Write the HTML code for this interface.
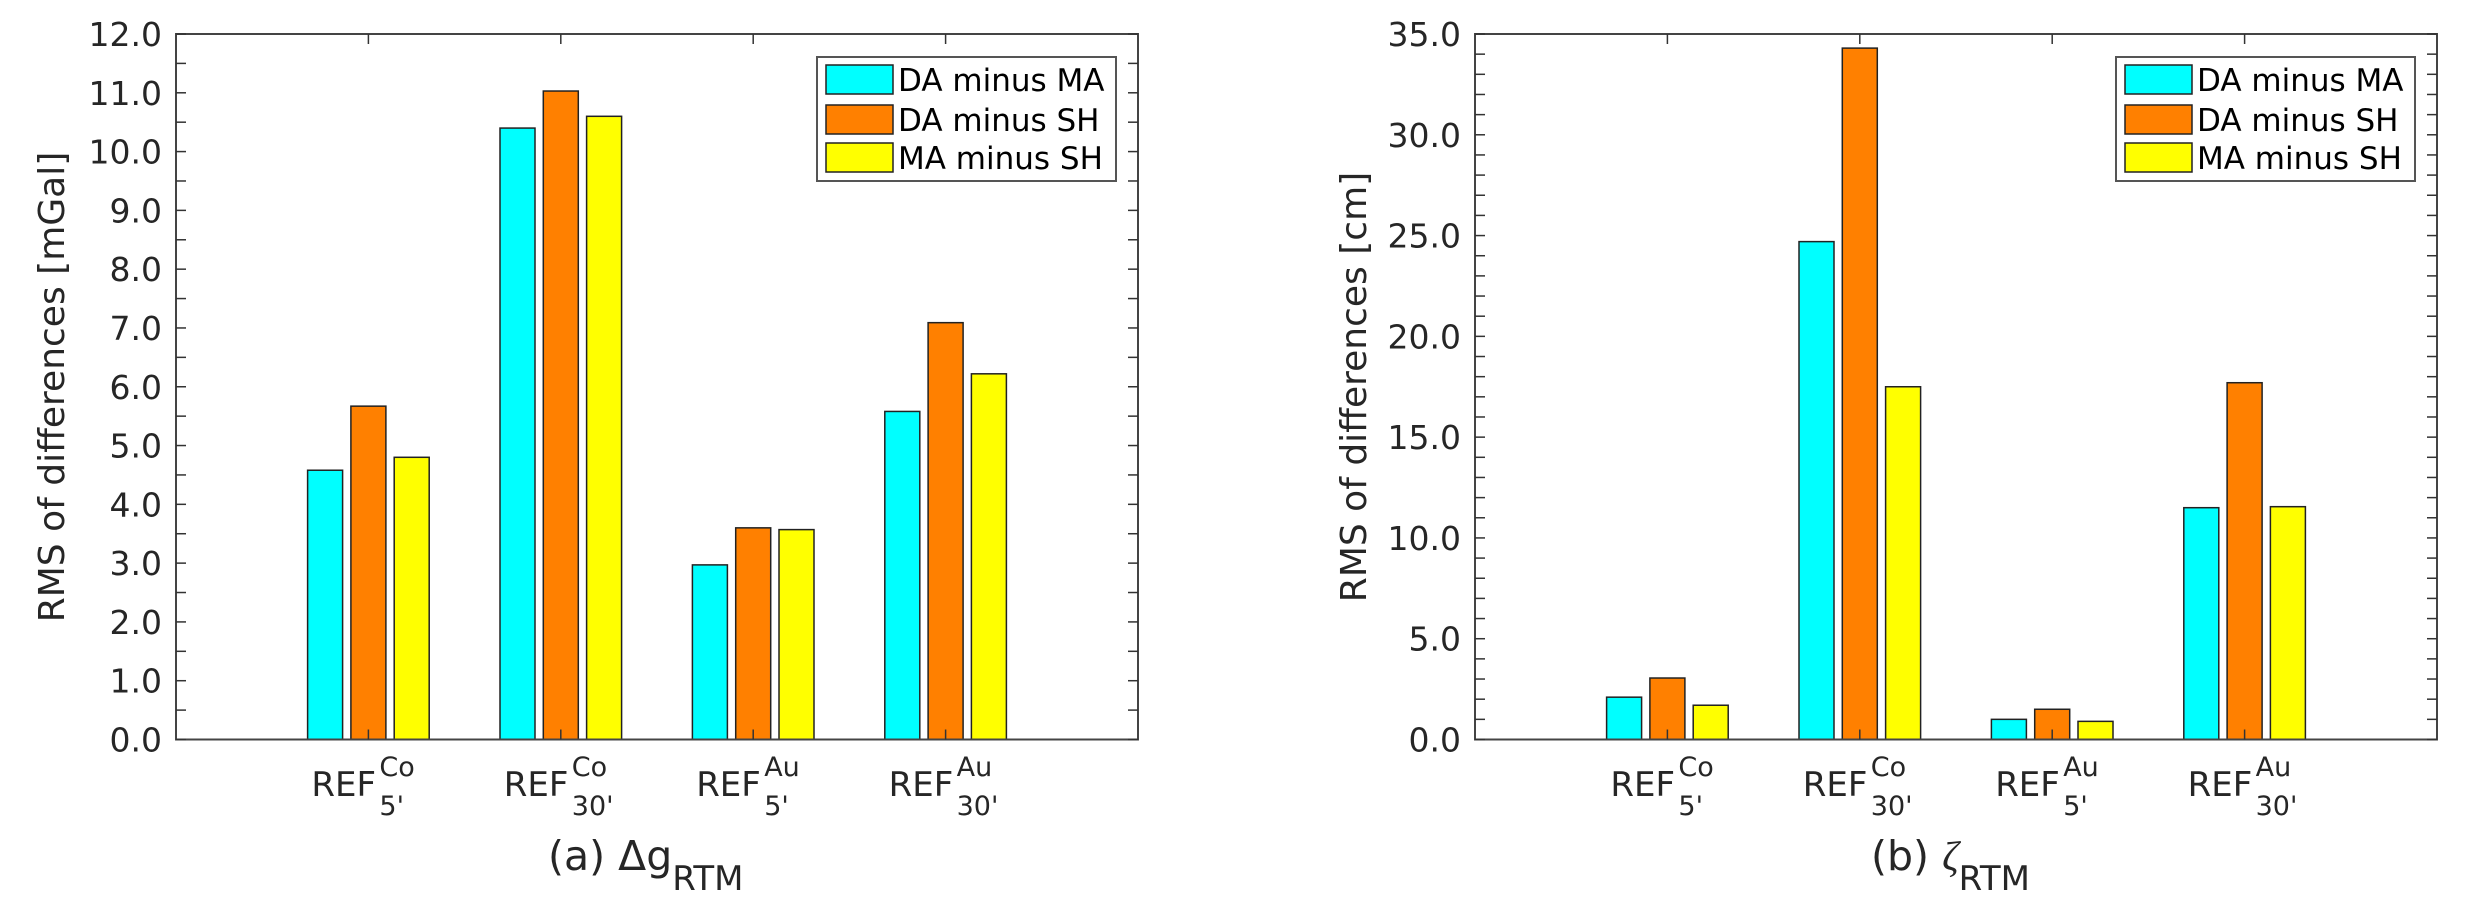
<!DOCTYPE html>
<html><head><meta charset="utf-8"><style>
html,body{margin:0;padding:0;background:#fff;}
svg{display:block;font-family:"DejaVu Sans","Liberation Sans",sans-serif;}
</style></head><body>
<svg id="s" width="2468" height="917" xmlns="http://www.w3.org/2000/svg"></svg>
<script>
const S=document.getElementById('s');let h='';
const cols=['#00ffff','#ff8000','#ffff00'];
function panel(x0,ymax,minor,labStep,data,ylabel,ylx,title){
  const x1=x0+962,yt=34,yb=739.5,W=962/5,H=yb-yt;
  const Y=v=>yb-v/ymax*H;
  data.forEach((g,i)=>{g.forEach((v,j)=>{const cx=x0+(i+1)*W+(j-1)*43.3;
    h+=`<rect x="${cx-17.5}" y="${Y(v)}" width="35" height="${yb-Y(v)}" fill="${cols[j]}" stroke="#222" stroke-width="1.5"/>`;});});
  h+=`<rect x="${x0}" y="${yt}" width="962" height="${H}" fill="none" stroke="#444" stroke-width="2"/>`;
  for(let v=0;v<=ymax+1e-9;v+=minor){const y=Y(v);
    h+=`<line x1="${x0}" y1="${y}" x2="${x0+10}" y2="${y}" stroke="#333" stroke-width="1.5"/><line x1="${x1}" y1="${y}" x2="${x1-10}" y2="${y}" stroke="#333" stroke-width="1.5"/>`;
    if(Math.abs(v/labStep-Math.round(v/labStep))<1e-6) h+=`<text x="${x0-14}" y="${y+12}" font-size="33" text-anchor="end" fill="#262626">${v.toFixed(1)}</text>`;}
  const labs=[['Co',"5'"],['Co',"30'"],['Au',"5'"],['Au',"30'"]];
  for(let i=1;i<=4;i++){const x=x0+i*W;
    h+=`<line x1="${x}" y1="${yt}" x2="${x}" y2="${yt+10}" stroke="#333" stroke-width="1.5"/><line x1="${x}" y1="${yb}" x2="${x}" y2="${yb-10}" stroke="#333" stroke-width="1.5"/>`;
    h+=`<text x="${x-57}" y="796" font-size="34" fill="#262626">REF</text><text x="${x+11}" y="776" font-size="27" fill="#262626">${labs[i-1][0]}</text><text x="${x+11}" y="815" font-size="27" fill="#262626">${labs[i-1][1]}</text>`;}
  h+=`<text transform="translate(${ylx},387) rotate(-90)" font-size="36" text-anchor="middle" fill="#262626">${ylabel}</text>`;
  h+=title(x0+481);
  const lx=x1-321;
  h+=`<rect x="${lx}" y="57" width="299" height="124" fill="#fff" stroke="#555" stroke-width="2"/>`;
  ['DA minus MA','DA minus SH','MA minus SH'].forEach((t,j)=>{const y=[65,105,143][j];
    h+=`<rect x="${lx+9}" y="${y}" width="67" height="29" fill="${cols[j]}" stroke="#222" stroke-width="1.5"/><text x="${lx+81}" y="${y+26}" font-size="31" fill="#000">${t}</text>`;});
}
panel(176,12,0.5,1,[[4.58,5.67,4.8],[10.4,11.03,10.6],[2.97,3.6,3.57],[5.58,7.09,6.22]],'RMS of differences [mGal]',64,
 c=>`<text x="${c-109}" y="870" font-size="41" fill="#262626">(a) Δg<tspan dy="20" font-size="34">RTM</tspan></text>`);
panel(1475,35,1,5,[[2.1,3.05,1.7],[24.7,34.3,17.5],[1.0,1.5,0.9],[11.5,17.7,11.55]],'RMS of differences [cm]',1366,
 c=>`<text x="${c-85}" y="870" font-size="41" fill="#262626">(b) <tspan font-style="italic" font-family="Liberation Serif,serif">ζ</tspan><tspan dy="20" font-size="34">RTM</tspan></text>`);
S.innerHTML=h;
</script>
</body></html>
